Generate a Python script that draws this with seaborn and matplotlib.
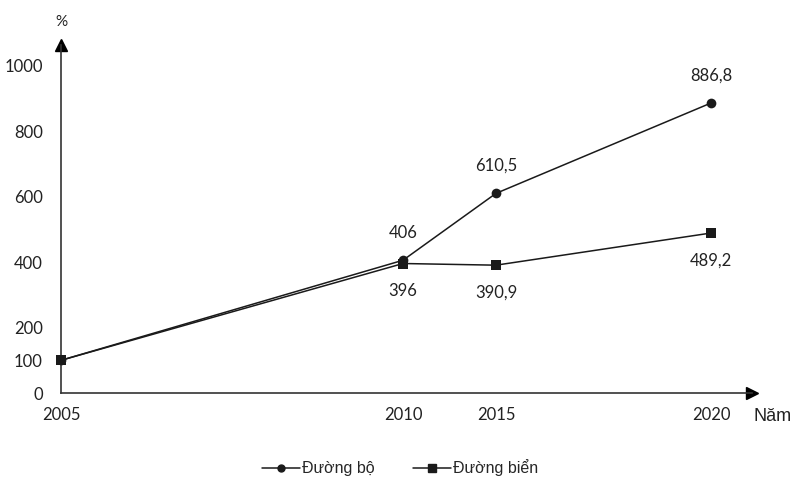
"""Growth of freight by road and by sea, 2005-2020 (2005 = 100%)."""

import matplotlib

matplotlib.use("Agg")
import matplotlib.pyplot as plt
import numpy as np
import pandas as pd
import seaborn as sns

YEARS = [2005, 2010, 2015, 2020]
ROAD = [100, 406, 610.5, 886.8]
SEA = [100, 396, 390.9, 489.2]
ROAD_LABELS = ["", "406", "610,5", "886,8"]
SEA_LABELS = ["", "396", "390,9", "489,2"]
SERIES = ["Đường bộ", "Đường biển"]
Y_TICKS = [0, 100, 200, 400, 600, 800, 1000]

# the drawing spaces years unevenly, so the x scale is piecewise linear
YEAR_ANCHORS = [2005, 2010, 2015, 2020, 2025]
POS_ANCHORS = [0, 342, 435, 650, 865]


def forward(x):
    return np.interp(x, YEAR_ANCHORS, POS_ANCHORS)


def inverse(x):
    return np.interp(x, POS_ANCHORS, YEAR_ANCHORS)


df = pd.DataFrame(
    {
        "year": YEARS * 2,
        "value": ROAD + SEA,
        "series": [SERIES[0]] * 4 + [SERIES[1]] * 4,
    }
)

sns.set_theme(style="white")
plt.rcParams["font.family"] = ["Lato", "DejaVu Sans"]

fig = plt.figure(figsize=(8.01, 4.97), dpi=100)
ax = fig.add_axes([61 / 801, 104 / 497, (752 - 61) / 801, (393 - 45) / 497])
ax.set_xscale("function", functions=(forward, inverse))

sns.lineplot(
    data=df,
    x="year",
    y="value",
    style="series",
    markers={SERIES[0]: "o", SERIES[1]: "s"},
    dashes=False,
    color="#1a1a1a",
    linewidth=1.1,
    markersize=7,
    markeredgewidth=0,
    legend=False,
    clip_on=False,
    zorder=3,
    ax=ax,
)

x_max = inverse(752 - 61)
ax.set_xlim(2005, x_max)
ax.set_ylim(0, (393 - 45) / 0.327)

ax.set_xticks(YEARS)
ax.set_xticklabels([str(y) for y in YEARS])
ax.set_yticks(Y_TICKS)
ax.set_yticklabels([str(v) for v in Y_TICKS])
ax.tick_params(axis="y", labelsize=12, colors="#222222", direction="out",
               length=5, width=1, pad=8)
ax.tick_params(axis="x", labelsize=12, colors="#222222", direction="out",
               length=4, width=1, pad=6)
ax.set_xlabel("")
ax.set_ylabel("")

sns.despine(ax=ax)
for side in ("left", "bottom"):
    ax.spines[side].set_color("#333333")
    ax.spines[side].set_linewidth(1.2)

# arrow heads on the axes
ax.plot(1, 0, ">", color="black", markersize=8, transform=ax.transAxes,
        clip_on=False)
ax.plot(0, 1, "^", color="black", markersize=8, transform=ax.transAxes,
        clip_on=False)
ax.text(0, 1.045, "%", transform=ax.transAxes, ha="center", va="bottom",
        fontsize=11, color="#222222")
ax.text(1.002, -0.068, "Năm", transform=ax.transAxes, ha="left", va="center",
        fontsize=13, color="#222222", family=["Liberation Sans", "DejaVu Sans"])

for year, value, label in zip(YEARS, ROAD, ROAD_LABELS):
    if label:
        ax.annotate(label, (year, value), xytext=(0, 14), textcoords="offset points",
                    ha="center", va="bottom", fontsize=12, color="#222222")
for year, value, label in zip(YEARS, SEA, SEA_LABELS):
    if label:
        ax.annotate(label, (year, value), xytext=(0, -14), textcoords="offset points",
                    ha="center", va="top", fontsize=12, color="#222222")

handles = [
    plt.Line2D([], [], color="#1a1a1a", lw=1.1, marker="o", markersize=5),
    plt.Line2D([], [], color="#1a1a1a", lw=1.1, marker="s", markersize=6),
]
fig.legend(
    handles,
    SERIES,
    loc="center",
    bbox_to_anchor=(400 / 801, 1 - 468 / 497),
    ncol=2,
    frameon=False,
    handlelength=2.4,
    handletextpad=0.1,
    columnspacing=2.4,
    prop={"family": ["Liberation Sans", "DejaVu Sans"], "size": 11.5},
)

fig.savefig("out.png", dpi=100)
